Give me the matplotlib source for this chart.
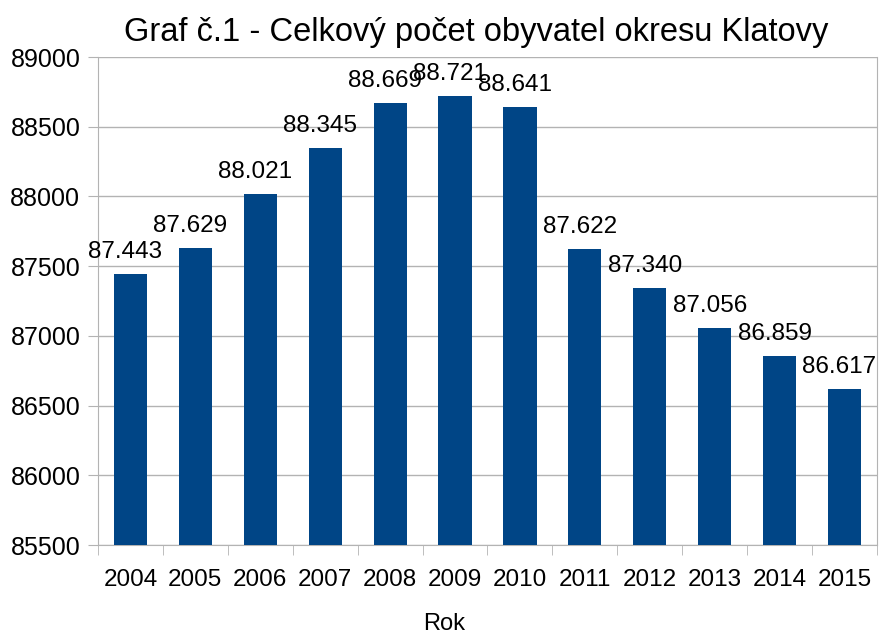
import numpy as np
import matplotlib
matplotlib.use('Agg')
import matplotlib.pyplot as plt

# data
years = ['2004', '2005', '2006', '2007', '2008', '2009',
         '2010', '2011', '2012', '2013', '2014', '2015']
population = [87443, 87629, 88021, 88345, 88669, 88721,
              88641, 87622, 87340, 87056, 86859, 86617]
y_ticks = [85500, 86000, 86500, 87000, 87500, 88000, 88500, 89000]

title = 'Graf č.1 - Celkový počet obyvatel okresu Klatovy'
x_label = 'Rok'

plt.rcParams['font.family'] = ['Liberation Sans', 'DejaVu Sans']
grid_color = '#b3b3b3'
bar_color = '#004586'

fig = plt.figure(figsize=(8.82, 6.37), dpi=100)
ax = fig.add_axes([98 / 882, 1 - 545 / 637, (877 - 98) / 882, (545 - 57) / 637])

index = np.arange(len(years))
ax.bar(index, [p - y_ticks[0] for p in population], 0.51,
       bottom=y_ticks[0], color=bar_color, zorder=3)

# value labels like LibreOffice: thousands separated by a dot
for i, p in enumerate(population):
    txt = '{:,}'.format(p).replace(',', '.')
    ax.annotate(txt, (i, p), xytext=(-5, 22), textcoords='offset pixels',
                ha='center', va='center', fontsize=17.5, zorder=4)

ax.set_xlim(-0.5, len(years) - 0.5)
ax.set_ylim(y_ticks[0], y_ticks[-1])
ax.set_yticks(y_ticks)
ax.set_xticks(index)
ax.set_xticklabels(years)
ax.set_xticks(np.arange(-0.5, len(years)), minor=True)

ax.yaxis.grid(True, color=grid_color, linewidth=1, zorder=0)
ax.tick_params(axis='y', length=10 * 0.72, color=grid_color, labelsize=18, pad=5.5)
ax.tick_params(axis='x', which='major', length=0, labelsize=17.5, pad=17)
ax.tick_params(axis='x', which='minor', length=10 * 0.72, color=grid_color)
for s in ax.spines.values():
    s.set_color(grid_color)
ax.spines['top'].set_visible(False)

fig.text(476 / 882, 1 - 32 / 637, title, ha='center', va='center', fontsize=23.5)
fig.text(444 / 882, 1 - 624 / 637, x_label, ha='center', va='center', fontsize=17)

fig.savefig('out.png', dpi=100)
